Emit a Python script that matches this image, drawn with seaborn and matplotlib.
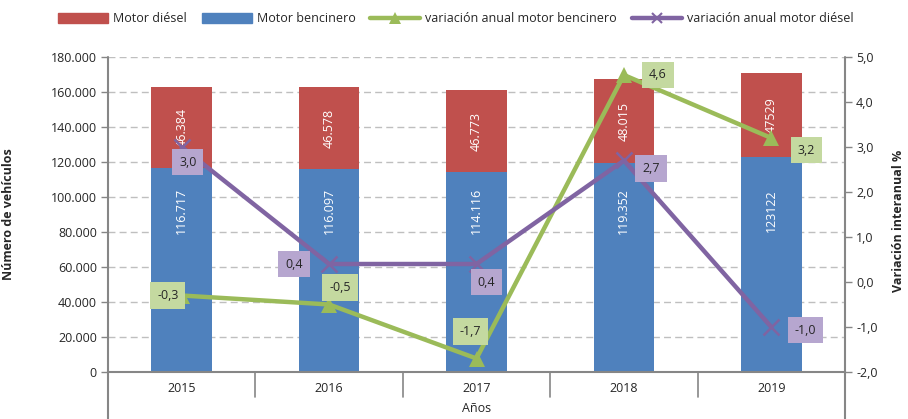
import numpy as np
import pandas as pd
import seaborn as sns
import matplotlib.pyplot as plt
from matplotlib.lines import Line2D
from matplotlib.patches import Patch
from matplotlib.ticker import FuncFormatter

anios = ["2015", "2016", "2017", "2018", "2019"]
motor_diesel = [46384, 46578, 46773, 48015, 47529]
motor_bencinero = [116717, 116097, 114116, 119352, 123122]
etiq_diesel = ["46.384", "46.578", "46.773", "48.015", "47529"]
etiq_bencinero = ["116.717", "116.097", "114.116", "119.352", "123122"]
var_bencinero = [-0.3, -0.5, -1.7, 4.6, 3.2]
var_diesel = [3.0, 0.4, 0.4, 2.7, -1.0]

RED = "#C0504D"
BLUE = "#4F81BD"
GREEN = "#9BBB59"
PURPLE = "#8064A2"
GREEN_BOX = "#C4D9A0"
PURPLE_BOX = "#B6A6CF"
AXIS = "#868686"
TXT = "#262626"

sns.set_style("white")
plt.rcParams["font.family"] = ["Open Sans", "DejaVu Sans"]

df = pd.DataFrame({"anio": anios, "diesel": motor_diesel, "bencinero": motor_bencinero})
df["total"] = df["diesel"] + df["bencinero"]

fig = plt.figure(figsize=(9.08, 4.19), dpi=100)
ax = fig.add_axes([108 / 908, 1 - 372 / 419, (845 - 108) / 908, (372 - 57) / 419])

sns.barplot(data=df, x="anio", y="total", color=RED, width=0.41, saturation=1,
            linewidth=0, ax=ax)
sns.barplot(data=df, x="anio", y="bencinero", color=BLUE, width=0.41, saturation=1,
            linewidth=0, ax=ax)

ax.set_ylim(0, 180000)
ax.set_xlim(-0.5, 4.5)
ax.set_yticks(np.arange(0, 180001, 20000))
ax.yaxis.set_major_formatter(FuncFormatter(lambda v, p: f"{int(v):,}".replace(",", ".")))
ax.set_axisbelow(True)
ax.grid(axis="y", color="#BFBFBF", linestyle=(0, (5, 3)), linewidth=1)
ax.grid(axis="x", visible=False)
for s in ["top", "right"]:
    ax.spines[s].set_visible(False)
ax.spines["left"].set_visible(False)
ax.spines["bottom"].set_color(AXIS)
ax.spines["bottom"].set_linewidth(1.5)
ax.tick_params(axis="y", length=5, width=1, color=AXIS, labelsize=9, labelcolor=TXT, pad=3)
ax.tick_params(axis="x", length=0, labelsize=9, labelcolor=TXT, pad=7)
ax.set_xlabel("Años", fontsize=9, color=TXT, labelpad=5)
ax.set_ylabel("Número de vehículos", fontsize=9, fontweight="bold", color=TXT)
ax.yaxis.set_label_coords(-0.126, 0.5)

# axis frame lines extending below the plot, and category separators
low = -(419 - 372) / 315
for xa in [0, 1]:
    ax.add_line(Line2D([xa, xa], [low, 1], transform=ax.transAxes, color=AXIS,
                       lw=1.5, clip_on=False, zorder=5))
for xa in [0.2, 0.4, 0.6, 0.8]:
    ax.add_line(Line2D([xa, xa], [-(397 - 372) / 315, 0], transform=ax.transAxes,
                       color=AXIS, lw=1.2, clip_on=False))

# bar labels
for i in range(len(anios)):
    ax.text(i, motor_bencinero[i] + motor_diesel[i] / 2, etiq_diesel[i], rotation=90,
            ha="center", va="center", color="white", fontsize=9)
    ax.text(i, 92000, etiq_bencinero[i], rotation=90, ha="center", va="center",
            color="white", fontsize=9)

# secondary axis
ax2 = ax.twinx()
pos = np.arange(len(anios))
sns.lineplot(x=pos, y=var_bencinero, color=GREEN, linewidth=3.2, marker="^",
             markersize=11, markeredgewidth=0, ax=ax2, zorder=4)
sns.lineplot(x=pos, y=var_diesel, color=PURPLE, linewidth=3.2, marker="x",
             markersize=11, markeredgewidth=1.8, markeredgecolor=PURPLE, ax=ax2, zorder=4)
ax2.set_ylim(-2, 5)
ax2.set_xlim(-0.5, 4.5)
ax2.set_yticks(np.arange(-2, 5.1, 1))
ax2.yaxis.set_major_formatter(FuncFormatter(lambda v, p: f"{v:.1f}".replace(".", ",")))
ax2.grid(False)
for s in ["top", "left", "bottom", "right"]:
    ax2.spines[s].set_visible(False)
ax2.tick_params(axis="y", length=5, width=1, color=AXIS, labelsize=9, labelcolor=TXT, pad=3)
ax2.set_ylabel("Variación interanual %", fontsize=9, fontweight="bold", color=TXT,
               rotation=90)
ax2.yaxis.set_label_coords(1.064, 0.48)

off_benc = [(-14, 0), (11, 17), (-6, 27), (34, 0), (35, -12)]
off_dies = [(6, -15), (-35, 0), (10, -18), (27, -8), (34, -3)]
for i in range(len(anios)):
    ax2.annotate(f"{var_bencinero[i]:.1f}".replace(".", ","), (i, var_bencinero[i]),
                 xytext=off_benc[i], textcoords="offset pixels", ha="center", va="center",
                 fontsize=9, color=TXT, zorder=6,
                 bbox=dict(boxstyle="square,pad=0.55", fc=GREEN_BOX, ec="none"))
    ax2.annotate(f"{var_diesel[i]:.1f}".replace(".", ","), (i, var_diesel[i]),
                 xytext=off_dies[i], textcoords="offset pixels", ha="center", va="center",
                 fontsize=9, color=TXT, zorder=6,
                 bbox=dict(boxstyle="square,pad=0.55", fc=PURPLE_BOX, ec="none"))

handles = [
    Patch(color=RED, label="Motor diésel"),
    Patch(color=BLUE, label="Motor bencinero"),
    Line2D([], [], color=GREEN, lw=3.2, marker="^", markersize=8, markeredgewidth=0,
           label="variación anual motor bencinero"),
    Line2D([], [], color=PURPLE, lw=3.2, marker="x", markersize=7, markeredgewidth=1.5,
           label="variación anual motor diésel"),
]
fig.legend(handles=handles, loc="center", bbox_to_anchor=(0.502, 1 - 19 / 419), ncol=4,
           frameon=False, fontsize=9, handlelength=4, handleheight=0.9,
           columnspacing=1.2, handletextpad=0.4, labelcolor=TXT)

fig.savefig("out.png", dpi=100)
